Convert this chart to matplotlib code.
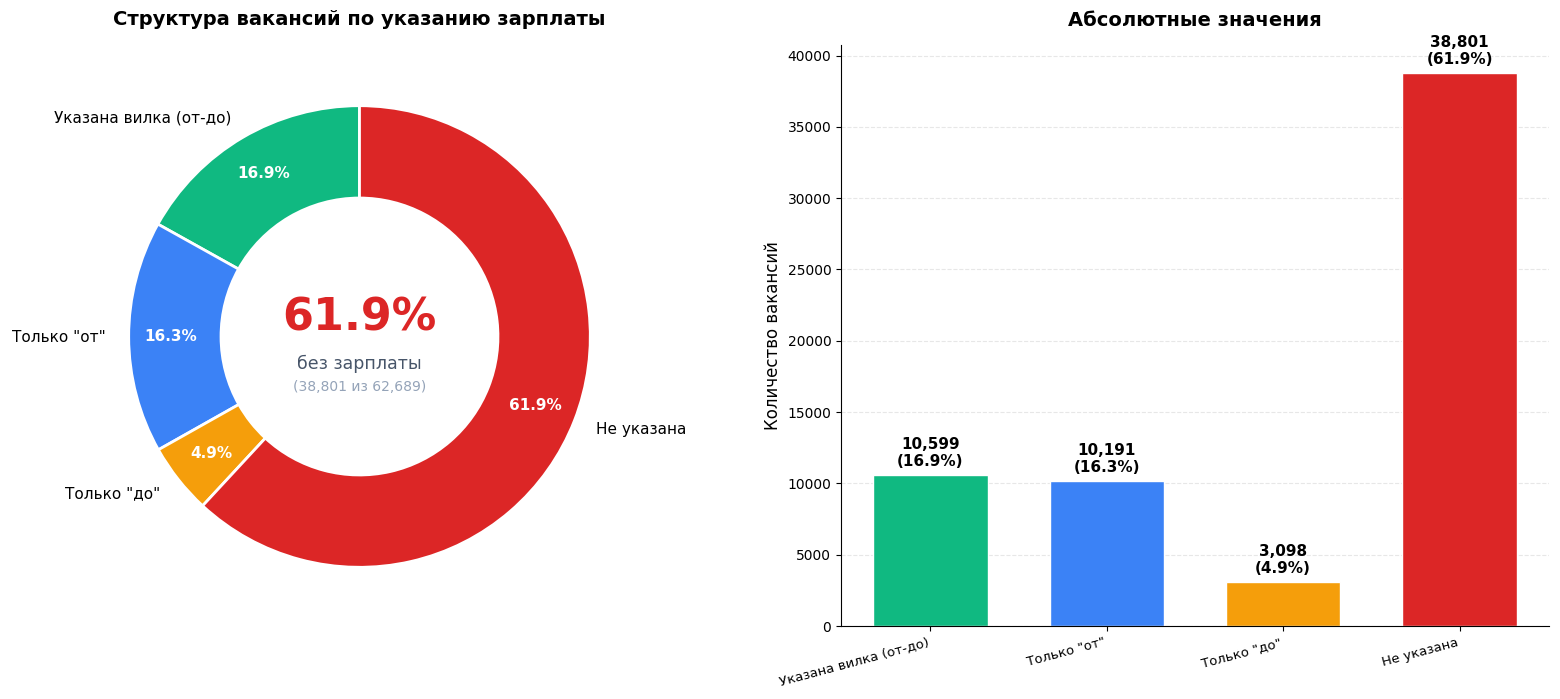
import matplotlib
matplotlib.use('Agg')
import matplotlib.pyplot as plt

categories = ['Указана вилка (от-до)', 'Только "от"', 'Только "до"', 'Не указана']
counts = [10599, 10191, 3098, 38801]
colors = ['#10b981', '#3b82f6', '#f59e0b', '#dc2626']

total = sum(counts)
shares = [c / total * 100 for c in counts]

fig = plt.figure(figsize=(15.6, 6.99), dpi=100)
W, H = 1560, 699

# donut
ax1 = fig.add_axes([71 / W, 74 / H, 577 / W, 577 / H])
wedges, texts, autotexts = ax1.pie(
    counts, labels=categories, colors=colors, startangle=90,
    autopct='%1.1f%%', pctdistance=0.82, labeldistance=1.1,
    wedgeprops=dict(width=0.4, edgecolor='white', linewidth=2),
    textprops=dict(fontsize=11))
for t in autotexts:
    t.set_color('white')
    t.set_fontweight('bold')
    t.set_fontsize(11)
ax1.set_xlim(-1.25, 1.25)
ax1.set_ylim(-1.25, 1.25)
ax1.set_title('Структура вакансий по указанию зарплаты', fontsize=14,
              fontweight='bold', pad=16.5)
ax1.text(0, 0.08, f'{shares[3]:.1f}%', ha='center', va='center',
         fontsize=32, fontweight='bold', color='#dc2626')
ax1.text(0, -0.12, 'без зарплаты', ha='center', va='center',
         fontsize=12.5, color='#475569')
ax1.text(0, -0.22, f'({counts[3]:,} из {total:,})', ha='center', va='center',
         fontsize=10, color='#94a3b8')

# bars
ax2 = fig.add_axes([841 / W, 73 / H, 708 / W, 581 / H])
x = range(len(categories))
bars = ax2.bar(x, counts, color=colors, width=0.65, edgecolor='white', linewidth=1)
ax2.set_ylim(0, max(counts) * 1.05)
for b, c, s in zip(bars, counts, shares):
    ax2.text(b.get_x() + b.get_width() / 2, c + max(counts) * 0.01,
             f'{c:,}\n({s:.1f}%)', ha='center', va='bottom',
             fontsize=11, fontweight='bold')
ax2.set_xticks(list(x))
ax2.set_xticklabels(categories, rotation=15, ha='right', fontsize=9.5)
ax2.tick_params(axis='y', labelsize=10)
ax2.set_ylabel('Количество вакансий', fontsize=12)
ax2.set_title('Абсолютные значения', fontsize=14, fontweight='bold', pad=13.5)
ax2.grid(axis='y', linestyle='--', alpha=0.3)
ax2.set_axisbelow(True)
ax2.spines['top'].set_visible(False)
ax2.spines['right'].set_visible(False)

fig.savefig('out.png', dpi=100)
